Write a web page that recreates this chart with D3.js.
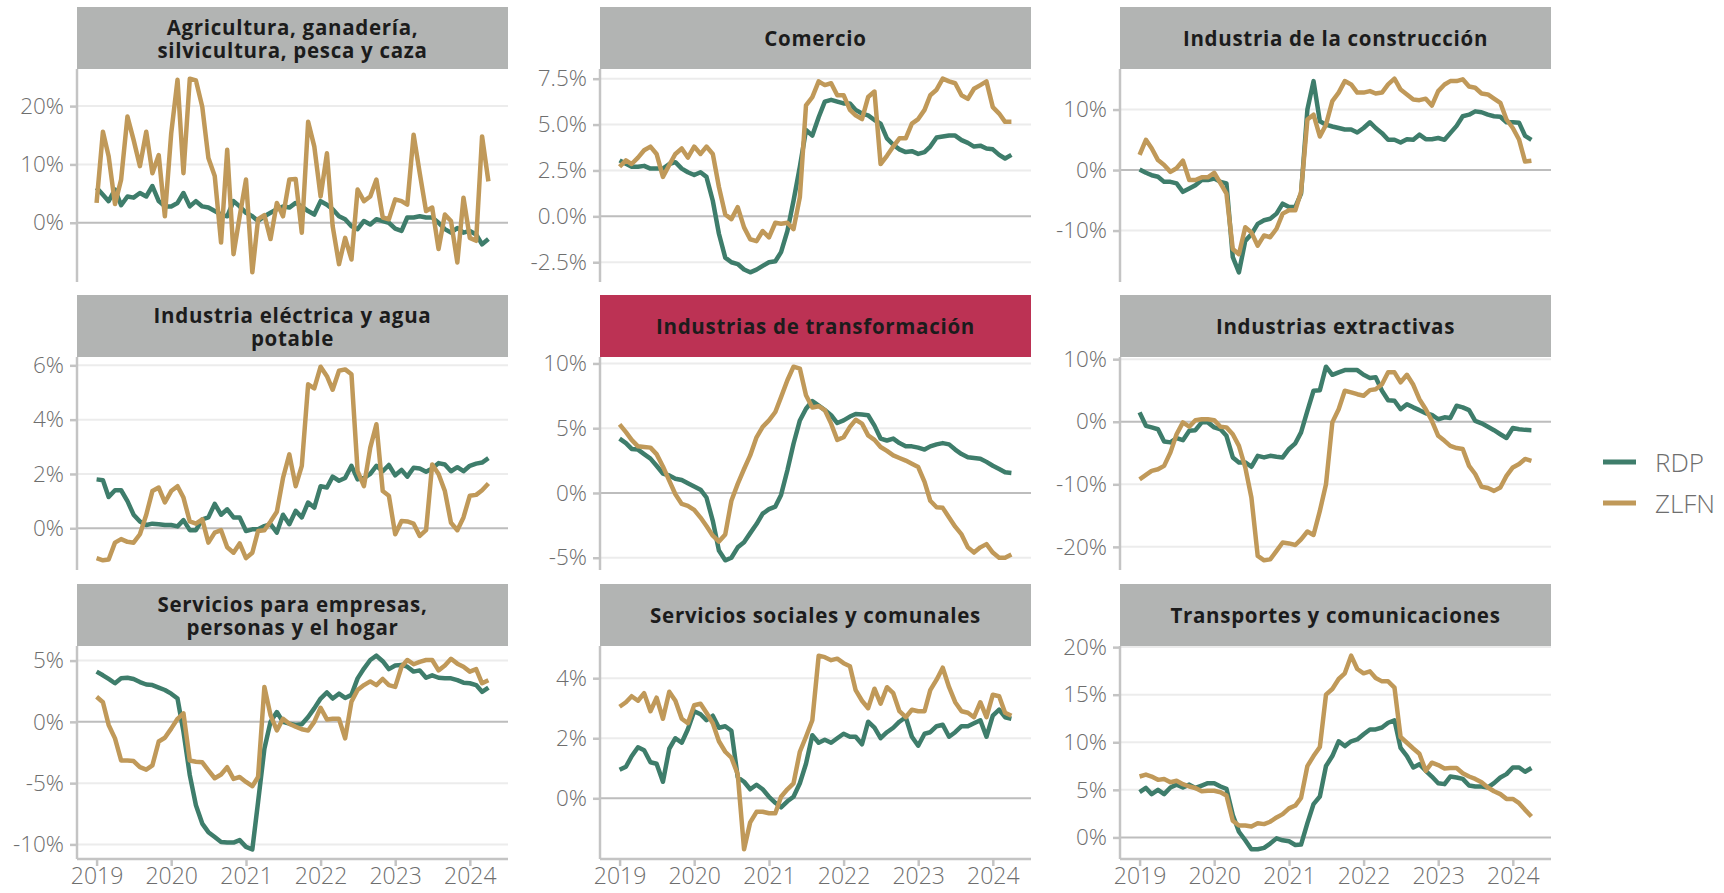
<!DOCTYPE html>
<html>
<head>
<meta charset="utf-8">
<script src="https://cdnjs.cloudflare.com/ajax/libs/d3/7.8.5/d3.min.js"></script>
<style>
  body { margin: 0; background: white; }
  svg text { font-family: 'Open Sans', 'Noto Sans', sans-serif; }
</style>
</head>
<body>
<script>
// facet titles (\n = line break in the strip), in reading order
var sectors = [
  'Agricultura, ganadería,\nsilvicultura, pesca y caza',
  'Comercio',
  'Industria de la construcción',
  'Industria eléctrica y agua\npotable',
  'Industrias de transformación',
  'Industrias extractivas',
  'Servicios para empresas,\npersonas y el hogar',
  'Servicios sociales y comunales',
  'Transportes y comunicaciones'
];
var highlighted = 'Industrias de transformación';
var seriesNames = ['RDP', 'ZLFN'];
var yearTicks = [2019, 2020, 2021, 2022, 2023, 2024];
var firstMonth = '2019-01';
var lastMonth = '2024-04';

// monthly growth, % (Jan 2019 - Apr 2024)
var agroRDP = [6.0,4.8,3.7,5.7,3.0,4.5,4.3,5.1,4.5,6.3,3.7,2.8,2.8,3.4,5.1,2.8,3.7,2.8,2.6,2.0,1.4,1.1,3.7,2.8,1.7,1.1,0.3,1.1,1.7,2.3,2.8,2.6,3.4,2.8,2.0,1.4,3.7,3.1,2.3,1.1,0.6,-0.6,-1.1,0.3,-0.3,0.6,0.3,0.0,-1.0,-1.4,0.9,0.9,1.1,0.9,0.9,0.0,-1.1,-1.7,-0.9,-1.7,-1.4,-2.0,-3.7,-2.8];
var agroZLFN = [3.4,15.6,11.4,3.2,7.4,18.2,14.2,9.7,15.6,8.5,11.6,1.1,15.3,24.5,8.5,24.7,24.4,19.9,11.1,8.0,-3.4,12.5,-5.4,1.1,7.4,-8.5,0.6,1.3,-2.8,3.4,1.1,7.4,7.5,-1.7,17.3,13.1,4.5,11.9,-0.6,-7.1,-2.6,-6.3,5.7,3.7,4.5,7.4,0.9,0.6,4.0,3.7,3.1,15.1,8.5,2.0,2.6,-4.5,1.4,0.3,-6.8,4.3,-2.6,-3.1,14.8,7.1];

var comRDP = [3.05,2.86,2.7,2.7,2.75,2.6,2.6,2.6,2.85,2.95,2.6,2.4,2.25,2.4,2.15,0.85,-0.95,-2.25,-2.5,-2.6,-2.9,-3.05,-2.9,-2.7,-2.5,-2.45,-1.95,-0.8,0.85,2.7,4.7,4.4,5.4,6.25,6.35,6.25,6.15,6.15,5.8,5.6,5.5,5.25,5.05,4.25,3.9,3.65,3.5,3.55,3.4,3.5,3.8,4.3,4.35,4.4,4.4,4.15,4.0,3.8,3.85,3.7,3.65,3.35,3.15,3.35];
var comZLFN = [2.7,3.05,2.85,3.2,3.6,3.8,3.4,2.15,2.8,3.4,3.7,3.2,3.8,3.4,3.8,3.4,1.6,0.1,-0.15,0.5,-0.6,-1.25,-1.35,-0.8,-1.15,-0.35,-0.4,-0.35,-0.7,1.05,6.05,6.5,7.35,7.15,7.25,6.6,6.6,5.8,5.5,5.3,6.5,6.8,2.85,3.3,3.8,4.25,4.25,5.05,5.3,5.8,6.6,6.9,7.5,7.35,7.25,6.6,6.4,6.95,7.15,7.35,5.95,5.6,5.15,5.15];

var conRDP = [0.1,-0.45,-0.85,-1.1,-1.95,-1.95,-2.2,-3.6,-3.05,-2.5,-1.65,-1.65,-1.4,-1.95,-2.2,-14.4,-16.9,-11.7,-10.6,-8.9,-8.3,-8.05,-7.2,-5.55,-6.1,-6.1,-3.9,10.0,14.7,8.05,7.5,7.2,6.95,6.7,6.7,6.2,6.95,7.9,6.95,6.1,5.0,5.0,4.55,5.1,5.0,5.85,5.1,5.1,5.3,5.0,6.1,7.3,8.9,9.15,9.7,9.55,9.15,8.9,8.8,7.9,7.9,7.8,5.65,5.0];
var conZLFN = [2.5,5.0,3.6,1.65,0.85,-0.3,0.3,1.55,-1.65,-1.65,-1.2,-1.2,-0.45,-2.2,-3.9,-13.05,-13.9,-9.45,-10.3,-12.5,-10.8,-11.1,-9.7,-7.2,-6.65,-6.65,-3.6,8.35,9.15,5.55,7.5,11.4,12.8,14.7,14.15,12.8,12.8,13.05,12.65,12.8,14.15,15.1,13.3,12.5,11.65,11.55,11.8,10.65,13.05,14.15,14.7,14.7,15.0,13.8,13.6,12.65,12.5,11.8,11.1,8.35,6.95,5.0,1.4,1.55];

var eleRDP = [1.8,1.77,1.15,1.4,1.4,1.0,0.5,0.25,0.12,0.17,0.15,0.12,0.12,0.07,0.3,-0.07,-0.07,0.33,0.4,0.9,0.5,0.7,0.4,0.4,-0.1,-0.04,-0.04,0.08,0.15,-0.16,0.5,0.15,0.64,0.4,0.95,0.76,1.55,1.5,1.9,1.75,1.85,2.3,1.8,1.85,2.0,2.3,2.1,2.33,1.95,2.15,1.9,2.23,2.2,2.08,2.2,2.4,2.35,2.1,2.25,2.1,2.3,2.38,2.42,2.58];
var eleZLFN = [-1.1,-1.18,-1.15,-0.53,-0.4,-0.5,-0.53,-0.22,0.5,1.37,1.5,0.95,1.37,1.55,1.13,0.25,0.17,0.33,-0.53,-0.16,-0.07,-0.7,-0.9,-0.56,-1.1,-0.9,-0.1,-0.07,0.25,0.61,1.85,2.72,1.55,2.3,5.3,5.15,5.95,5.6,5.1,5.8,5.85,5.67,2.1,1.55,2.97,3.83,1.37,1.2,-0.22,0.27,0.25,0.17,-0.28,-0.07,2.35,2.0,1.37,0.2,-0.07,0.4,1.2,1.23,1.4,1.65];

var traRDP = [4.2,3.85,3.4,3.35,3.0,2.65,2.1,1.5,1.35,1.1,1.0,0.75,0.5,0.25,-0.35,-2.15,-4.45,-5.2,-5.0,-4.2,-3.8,-3.1,-2.4,-1.6,-1.25,-1.05,-0.15,1.75,3.8,5.6,6.5,7.1,6.75,6.4,6.0,5.4,5.6,5.9,6.1,6.05,6.0,5.2,4.2,4.05,4.2,3.85,3.6,3.6,3.5,3.35,3.6,3.75,3.85,3.75,3.35,3.0,2.75,2.7,2.65,2.4,2.1,1.85,1.6,1.55];
var traZLFN = [5.3,4.7,4.1,3.6,3.55,3.5,3.0,2.05,0.95,-0.1,-0.85,-1.0,-1.3,-1.9,-2.55,-3.3,-3.75,-3.2,-0.6,0.7,1.85,2.9,4.3,5.1,5.6,6.25,7.4,8.7,9.75,9.6,7.55,6.6,6.7,6.4,5.35,4.1,4.3,5.1,5.65,5.35,4.45,4.1,3.55,3.25,2.9,2.7,2.5,2.25,2.0,0.85,-0.6,-1.1,-1.15,-1.9,-2.6,-3.2,-4.2,-4.6,-4.2,-3.95,-4.6,-5.0,-5.0,-4.75];

var extRDP = [1.5,-0.65,-0.9,-1.2,-3.15,-3.3,-2.6,-2.95,-1.45,-1.35,-0.1,-0.1,-0.9,-1.2,-2.25,-5.7,-6.5,-6.5,-7.2,-5.45,-5.7,-5.45,-5.6,-5.7,-4.35,-3.45,-1.7,1.75,4.95,5.05,8.8,7.5,7.9,8.25,8.25,8.25,7.5,7.0,7.1,4.95,3.45,3.35,2.0,2.8,2.3,1.85,1.35,1.1,0.4,0.7,0.6,2.55,2.3,1.85,0.15,-0.25,-0.8,-1.35,-2.0,-2.6,-1.0,-1.2,-1.3,-1.35];
var extZLFN = [-9.2,-8.5,-7.85,-7.6,-7.05,-4.9,-2.0,-0.1,-0.8,0.25,0.4,0.4,0.25,-0.8,-0.9,-2.0,-3.85,-7.3,-12.1,-21.45,-22.15,-22.0,-20.65,-19.3,-19.45,-19.7,-18.8,-17.55,-18.1,-14.25,-10.0,-0.1,2.0,4.95,4.7,4.4,4.15,5.05,5.2,6.0,7.9,7.9,6.3,7.5,5.9,3.6,2.0,0.15,-2.25,-3.05,-3.85,-4.2,-4.35,-7.05,-8.35,-10.4,-10.6,-11.05,-10.5,-8.65,-7.3,-6.75,-5.95,-6.25];

var empRDP = [4.1,3.8,3.5,3.15,3.55,3.6,3.5,3.25,3.05,3.0,2.8,2.6,2.3,1.9,-0.8,-4.35,-6.8,-8.3,-9.0,-9.4,-9.8,-9.85,-9.85,-9.65,-10.2,-10.4,-6.55,-2.2,0.0,0.8,0.0,-0.15,-0.25,-0.2,0.4,1.1,1.9,2.4,1.9,2.3,1.95,2.2,3.55,4.35,5.05,5.4,4.95,4.3,4.6,4.65,4.5,4.1,4.2,3.6,3.8,3.6,3.55,3.55,3.4,3.2,3.15,3.0,2.45,2.8];
var empZLFN = [2.05,1.6,-0.25,-1.35,-3.15,-3.15,-3.2,-3.7,-3.9,-3.55,-1.6,-1.3,-0.55,0.25,0.7,-3.15,-3.25,-3.3,-3.95,-4.6,-4.3,-3.7,-4.65,-4.5,-4.9,-5.25,-4.5,2.85,0.55,-0.7,0.25,-0.15,-0.4,-0.6,-0.7,0.0,1.15,0.2,0.25,0.25,-1.35,1.65,2.6,3.0,3.3,3.0,3.5,3.0,2.85,4.5,5.05,4.7,4.9,5.05,5.05,4.2,4.6,5.15,4.75,4.5,4.1,4.3,3.15,3.4];

var socRDP = [0.95,1.05,1.4,1.7,1.6,1.2,1.15,0.55,1.65,2.0,1.85,2.3,2.9,2.8,2.6,2.75,2.35,2.4,2.25,0.7,0.55,0.3,0.45,0.3,0.05,-0.15,-0.3,-0.1,0.05,0.5,1.15,2.1,1.85,1.95,1.85,2.0,2.15,2.05,2.05,1.8,2.55,2.35,2.0,2.2,2.35,2.55,2.7,2.05,1.75,2.15,2.2,2.4,2.45,2.05,2.2,2.4,2.4,2.5,2.6,2.05,2.75,2.95,2.7,2.65];
var socZLFN = [3.05,3.2,3.4,3.25,3.5,2.9,3.35,2.65,3.55,3.25,2.65,2.5,3.1,3.15,2.85,2.5,1.9,1.55,1.35,0.8,-1.7,-0.8,-0.45,-0.45,-0.5,-0.5,0.05,0.3,0.5,1.55,2.05,2.6,4.75,4.7,4.6,4.65,4.5,4.4,3.6,3.25,3.0,3.65,3.15,3.7,3.5,2.9,2.7,2.95,2.9,2.9,3.6,3.95,4.35,3.7,3.2,2.9,2.85,2.7,3.2,2.7,3.45,3.4,2.85,2.75];

var trnRDP = [4.75,5.2,4.55,5.0,4.55,5.25,5.55,5.25,5.55,5.2,5.45,5.7,5.7,5.35,5.1,2.35,0.6,-0.3,-1.25,-1.25,-1.1,-0.65,-0.1,-0.3,-0.4,-0.8,-0.75,1.5,3.5,4.3,7.5,8.55,10.1,9.6,10.1,10.3,10.85,11.35,11.35,11.55,12.05,12.3,9.4,8.55,7.35,7.7,7.0,6.4,5.7,5.6,6.4,6.3,6.15,5.45,5.35,5.35,5.25,5.7,6.3,6.65,7.35,7.35,6.9,7.3];
var trnZLFN = [6.4,6.6,6.4,6.05,6.15,5.8,5.95,5.6,5.35,5.2,4.85,4.9,4.9,4.75,4.4,1.75,1.25,1.25,1.15,1.5,1.4,1.65,2.1,2.45,3.05,3.35,4.15,7.5,8.55,9.5,15.0,15.6,16.65,17.25,19.1,17.7,17.25,17.45,16.75,16.4,16.4,15.75,10.55,9.95,9.35,8.8,7.0,7.85,7.6,7.25,7.3,7.3,6.75,6.4,6.15,5.8,5.25,4.85,4.55,4.05,4.05,3.6,2.9,2.2];

// y-axis breaks per facet
var agroTicks = [0, 10, 20];
var comTicks = [-2.5, 0, 2.5, 5, 7.5];
var conTicks = [-10, 0, 10];
var eleTicks = [0, 2, 4, 6];
var traTicks = [-5, 0, 5, 10];
var extTicks = [-20, -10, 0, 10];
var empTicks = [-10, -5, 0, 5];
var socTicks = [0, 2, 4];
var trnTicks = [0, 5, 10, 15, 20];

var panelRDP = [agroRDP, comRDP, conRDP, eleRDP, traRDP, extRDP, empRDP, socRDP, trnRDP];
var panelZLFN = [agroZLFN, comZLFN, conZLFN, eleZLFN, traZLFN, extZLFN, empZLFN, socZLFN, trnZLFN];
var panelTicks = [agroTicks, comTicks, conTicks, eleTicks, traTicks, extTicks, empTicks, socTicks, trnTicks];

var colors = { RDP: '#3e7d6b', ZLFN: '#c09959' };
var stripGray = '#b2b4b3';
var stripRed = '#bc3254';
var axisColor = '#c4c4c4';
var gridColor = '#ececec';
var zeroColor = '#bdbdbd';
var labelColor = '#6e6e6e';

var svgWidth = 1724;
var svgHeight = 893;

// facet geometry
var colX = [77, 600, 1120];
var rowY = [7, 295, 584];
var panelW = 431;
var stripH = 62;
var plotH = 213;

var parseMonth = d3.timeParse('%Y-%m');
var months = d3.timeMonth.range(parseMonth(firstMonth), d3.timeMonth.offset(parseMonth(lastMonth), 1));

var svg = d3.select('body').append('svg')
  .attr('width', svgWidth)
  .attr('height', svgHeight);

// ggplot-like 5% padding
function expand(lo, hi) {
  var pad = (hi - lo) * 0.05;
  return [lo - pad, hi + pad];
}

function fmtPct(v, decimals) {
  return v.toFixed(decimals) + '%';
}

sectors.forEach(function(name, k) {
  var col = k % 3;
  var row = Math.floor(k / 3);
  var x0 = colX[col];
  var top = rowY[row];
  var plotTop = top + stripH;
  var plotBottom = plotTop + plotH;

  var rdp = panelRDP[k];
  var zlfn = panelZLFN[k];
  var ticks = panelTicks[k];
  var decimals = ticks.some(function(t) { return t % 1 !== 0; }) ? 1 : 0;

  var x = d3.scaleTime()
    .domain(expand(+months[0], +months[months.length - 1]).map(function(t) { return new Date(t); }))
    .range([x0, x0 + panelW]);

  var all = rdp.concat(zlfn);
  var y = d3.scaleLinear()
    .domain(expand(d3.min(all), d3.max(all)))
    .range([plotBottom, plotTop]);

  var g = svg.append('g').attr('class', 'panel');

  // strip
  g.append('rect')
    .attr('x', x0)
    .attr('y', top)
    .attr('width', panelW)
    .attr('height', stripH)
    .attr('fill', name === highlighted ? stripRed : stripGray);

  var lines = name.split('\n');
  var stripText = g.append('text')
    .attr('text-anchor', 'middle')
    .attr('font-size', '20.5px')
    .attr('font-weight', 700)
    .attr('letter-spacing', '0.7px')
    .attr('fill', '#1c1c1c');
  stripText.selectAll('tspan')
    .data(lines)
    .enter()
    .append('tspan')
    .attr('x', x0 + panelW / 2)
    .attr('y', function(d, i) { return top + stripH / 2 + (i - (lines.length - 1) / 2) * 23; })
    .attr('dominant-baseline', 'central')
    .text(function(d) { return d; });

  // grid
  g.selectAll('.grid')
    .data(ticks.filter(function(t) { return t !== 0; }))
    .enter()
    .append('line')
    .attr('x1', x0).attr('x2', x0 + panelW)
    .attr('y1', function(d) { return y(d); })
    .attr('y2', function(d) { return y(d); })
    .attr('stroke', gridColor)
    .attr('stroke-width', 2);

  g.append('line')
    .attr('x1', x0).attr('x2', x0 + panelW)
    .attr('y1', y(0)).attr('y2', y(0))
    .attr('stroke', zeroColor)
    .attr('stroke-width', 2);

  // y axis
  var yAxis = g.append('g')
    .attr('transform', `translate(${x0},0)`)
    .call(d3.axisLeft(y).tickValues(ticks).tickSize(7).tickPadding(6)
      .tickFormat(function(d) { return fmtPct(d, decimals); }));
  yAxis.select('.domain').remove();
  yAxis.selectAll('.tick line').attr('stroke', axisColor).attr('stroke-width', 2.5);
  yAxis.selectAll('.tick text')
    .attr('fill', labelColor)
    .attr('font-size', '22.5px')
    .attr('font-weight', 300)
    .attr('font-family', "'Open Sans', sans-serif");
  g.append('line')
    .attr('x1', x0).attr('x2', x0)
    .attr('y1', plotTop).attr('y2', plotBottom)
    .attr('stroke', axisColor)
    .attr('stroke-width', 2.5);

  // x axis only under the bottom row
  if (row === 2) {
    var xAxis = g.append('g')
      .attr('transform', `translate(0,${plotBottom})`)
      .call(d3.axisBottom(x)
        .tickValues(yearTicks.map(function(yr) { return new Date(yr, 0, 1); }))
        .tickSize(7).tickPadding(2)
        .tickFormat(d3.timeFormat('%Y')));
    xAxis.select('.domain')
      .attr('d', `M${x0},0H${x0 + panelW}`)
      .attr('stroke', axisColor).attr('stroke-width', 2.5);
    xAxis.selectAll('.tick line').attr('stroke', axisColor).attr('stroke-width', 2.5);
    xAxis.selectAll('.tick text')
      .attr('fill', labelColor)
      .attr('font-size', '23px')
      .attr('font-weight', 300)
      .attr('font-family', "'Open Sans', sans-serif");
  }

  // series
  var line = d3.line()
    .x(function(d, i) { return x(months[i]); })
    .y(function(d) { return y(d); });

  [['RDP', rdp], ['ZLFN', zlfn]].forEach(function(s) {
    g.append('path')
      .datum(s[1])
      .attr('d', line)
      .attr('fill', 'none')
      .attr('stroke', colors[s[0]])
      .attr('stroke-width', 4.5)
      .attr('stroke-linejoin', 'round')
      .attr('stroke-linecap', 'butt');
  });
});

// legend
var legend = svg.append('g').attr('transform', 'translate(1603,462)');
legend.selectAll('.key')
  .data(seriesNames)
  .enter()
  .append('line')
  .attr('x1', 0).attr('x2', 33)
  .attr('y1', function(d, i) { return i * 41; })
  .attr('y2', function(d, i) { return i * 41; })
  .attr('stroke', function(d) { return colors[d]; })
  .attr('stroke-width', 5);
legend.selectAll('.lab')
  .data(seriesNames)
  .enter()
  .append('text')
  .attr('x', 52)
  .attr('y', function(d, i) { return i * 41; })
  .attr('dominant-baseline', 'central')
  .attr('font-size', '26px')
  .attr('font-weight', 300)
  .attr('fill', labelColor)
  .text(function(d) { return d; });
</script>
</body>
</html>
